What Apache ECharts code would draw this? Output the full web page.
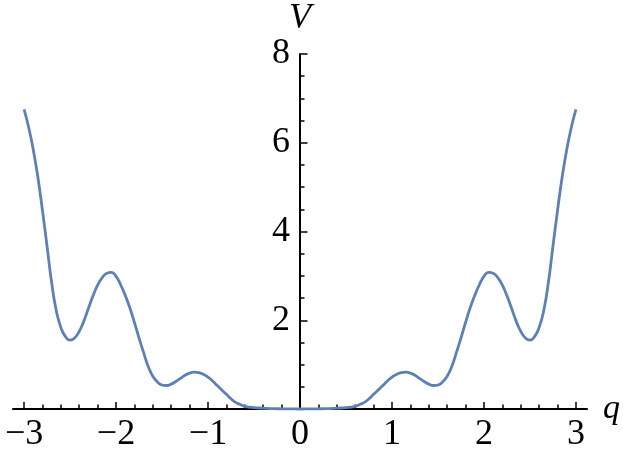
<!DOCTYPE html>
<html>
<head>
<meta charset="utf-8">
<script src="https://cdn.jsdelivr.net/npm/echarts@6/dist/echarts.min.js"></script>
<style>
html,body{margin:0;padding:0;background:#fff;}
#chart{width:623px;height:459px;}
</style>
</head>
<body>
<div id="chart"></div>
<script>
// Data
var qValues = [
  -3.00, -2.95, -2.90, -2.85, -2.80, -2.75, -2.70, -2.65, -2.60, -2.55,
  -2.50, -2.45, -2.40, -2.35, -2.30, -2.25, -2.20, -2.15, -2.10, -2.05,
  -2.00, -1.95, -1.90, -1.85, -1.80, -1.75, -1.70, -1.65, -1.60, -1.55,
  -1.50, -1.45, -1.40, -1.35, -1.30, -1.25, -1.20, -1.15, -1.10, -1.05,
  -1.00, -0.95, -0.90, -0.85, -0.80, -0.75, -0.70, -0.65, -0.60, -0.50,
  -0.40, -0.30, -0.20, -0.10, 0.00,
  0.10, 0.20, 0.30, 0.40, 0.50, 0.60, 0.65, 0.70, 0.75, 0.80,
  0.85, 0.90, 0.95, 1.00, 1.05, 1.10, 1.15, 1.20, 1.25, 1.30,
  1.35, 1.40, 1.45, 1.50, 1.55, 1.60, 1.65, 1.70, 1.75, 1.80,
  1.85, 1.90, 1.95, 2.00, 2.05, 2.10, 2.15, 2.20, 2.25, 2.30,
  2.35, 2.40, 2.45, 2.50, 2.55, 2.60, 2.65, 2.70, 2.75, 2.80,
  2.85, 2.90, 2.95, 3.00
];
var vValues = [
  6.75, 6.35, 5.85, 5.23, 4.48, 3.67, 2.85, 2.22, 1.84, 1.63,
  1.55, 1.60, 1.75, 1.98, 2.27, 2.55, 2.79, 2.96, 3.06, 3.08,
  2.99, 2.80, 2.56, 2.28, 1.95, 1.60, 1.27, 0.96, 0.74, 0.61,
  0.54, 0.53, 0.56, 0.62, 0.69, 0.76, 0.81, 0.83, 0.82, 0.78,
  0.72, 0.63, 0.53, 0.43, 0.33, 0.23, 0.15, 0.10, 0.06, 0.03,
  0.02, 0.01, 0.005, 0.002, 0.00,
  0.002, 0.005, 0.01, 0.02, 0.03, 0.06, 0.10, 0.15, 0.23, 0.33,
  0.43, 0.53, 0.63, 0.72, 0.78, 0.82, 0.83, 0.81, 0.76, 0.69,
  0.62, 0.56, 0.53, 0.54, 0.61, 0.74, 0.96, 1.27, 1.60, 1.95,
  2.28, 2.56, 2.80, 2.99, 3.08, 3.06, 2.96, 2.79, 2.55, 2.27,
  1.98, 1.75, 1.60, 1.55, 1.63, 1.84, 2.22, 2.85, 3.67, 4.48,
  5.23, 5.85, 6.35, 6.75
];
var xMajorTicks = [-3, -2, -1, 0, 1, 2, 3];
var xMinorTicks = [-2.8, -2.6, -2.4, -2.2, -1.8, -1.6, -1.4, -1.2, -0.8, -0.6, -0.4, -0.2,
                   0.2, 0.4, 0.6, 0.8, 1.2, 1.4, 1.6, 1.8, 2.2, 2.4, 2.6, 2.8];
var yMajorTicks = [2, 4, 6, 8];
var yMinorTicks = [0.5, 1, 1.5, 2.5, 3, 3.5, 4.5, 5, 5.5, 6.5, 7, 7.5];
var xName = 'q';
var yName = 'V';

var pts = qValues.map(function (q, i) { return [q, vValues[i]]; });
var FONT = '"Liberation Serif", "DejaVu Serif", serif';
var X_MIN = -3.12, X_MAX = 3.12;
var GRID_LEFT = 13, GRID_RIGHT = 36;
var PLOT_W = 623 - GRID_LEFT - GRID_RIGHT;
// place the vertical axis at q = 0 (Mathematica-style crossing axes)
var yAxisOffset = -PLOT_W * (0 - X_MIN) / (X_MAX - X_MIN);

var chart = echarts.init(document.getElementById('chart'), null, {renderer: 'canvas'});
chart.setOption({
  animation: false,
  backgroundColor: '#ffffff',
  grid: {left: GRID_LEFT, right: GRID_RIGHT, top: 54, bottom: 50, containLabel: false, outerBoundsMode: 'none'},
  xAxis: [{
    type: 'value', min: X_MIN, max: X_MAX, position: 'bottom',
    axisLine: {show: true, onZero: false, lineStyle: {color: '#000', width: 2}},
    axisTick: {show: true, inside: true, length: 7, customValues: xMajorTicks, lineStyle: {color: '#000', width: 1.5}},
    axisLabel: {show: true, customValues: xMajorTicks, margin: 8, color: '#000', fontFamily: FONT, fontSize: 36,
      formatter: function (v) { return String(v).replace('-', '\u2212'); }},
    splitLine: {show: false},
    name: xName, nameLocation: 'end', nameGap: 16,
    nameTextStyle: {color: '#000', fontFamily: FONT, fontStyle: 'italic', fontSize: 34}
  }, {
    type: 'value', min: X_MIN, max: X_MAX, position: 'bottom',
    axisLine: {show: false, onZero: false},
    axisTick: {show: true, inside: true, length: 4.5, customValues: xMinorTicks, lineStyle: {color: '#000', width: 1.5}},
    axisLabel: {show: false},
    splitLine: {show: false}
  }],
  yAxis: [{
    type: 'value', min: 0, max: 8, position: 'left', offset: yAxisOffset,
    axisLine: {show: true, onZero: false, lineStyle: {color: '#000', width: 2}},
    axisTick: {show: true, inside: true, length: 7.5, customValues: yMajorTicks, lineStyle: {color: '#000', width: 1.5}},
    axisLabel: {show: true, customValues: yMajorTicks, margin: 10, color: '#000', fontFamily: FONT, fontSize: 36},
    splitLine: {show: false},
    name: yName, nameLocation: 'end', nameGap: 14,
    nameTextStyle: {color: '#000', fontFamily: FONT, fontStyle: 'italic', fontSize: 36}
  }, {
    type: 'value', min: 0, max: 8, position: 'left', offset: yAxisOffset,
    axisLine: {show: false, onZero: false},
    axisTick: {show: true, inside: true, length: 4.5, customValues: yMinorTicks, lineStyle: {color: '#000', width: 1.5}},
    axisLabel: {show: false},
    splitLine: {show: false}
  }],
  series: [{
    type: 'line', xAxisIndex: 0, yAxisIndex: 0,
    data: pts, smooth: 0.5, showSymbol: false, clip: false,
    lineStyle: {color: '#5E81B5', width: 2.8}
  }]
});
</script>
</body>
</html>
